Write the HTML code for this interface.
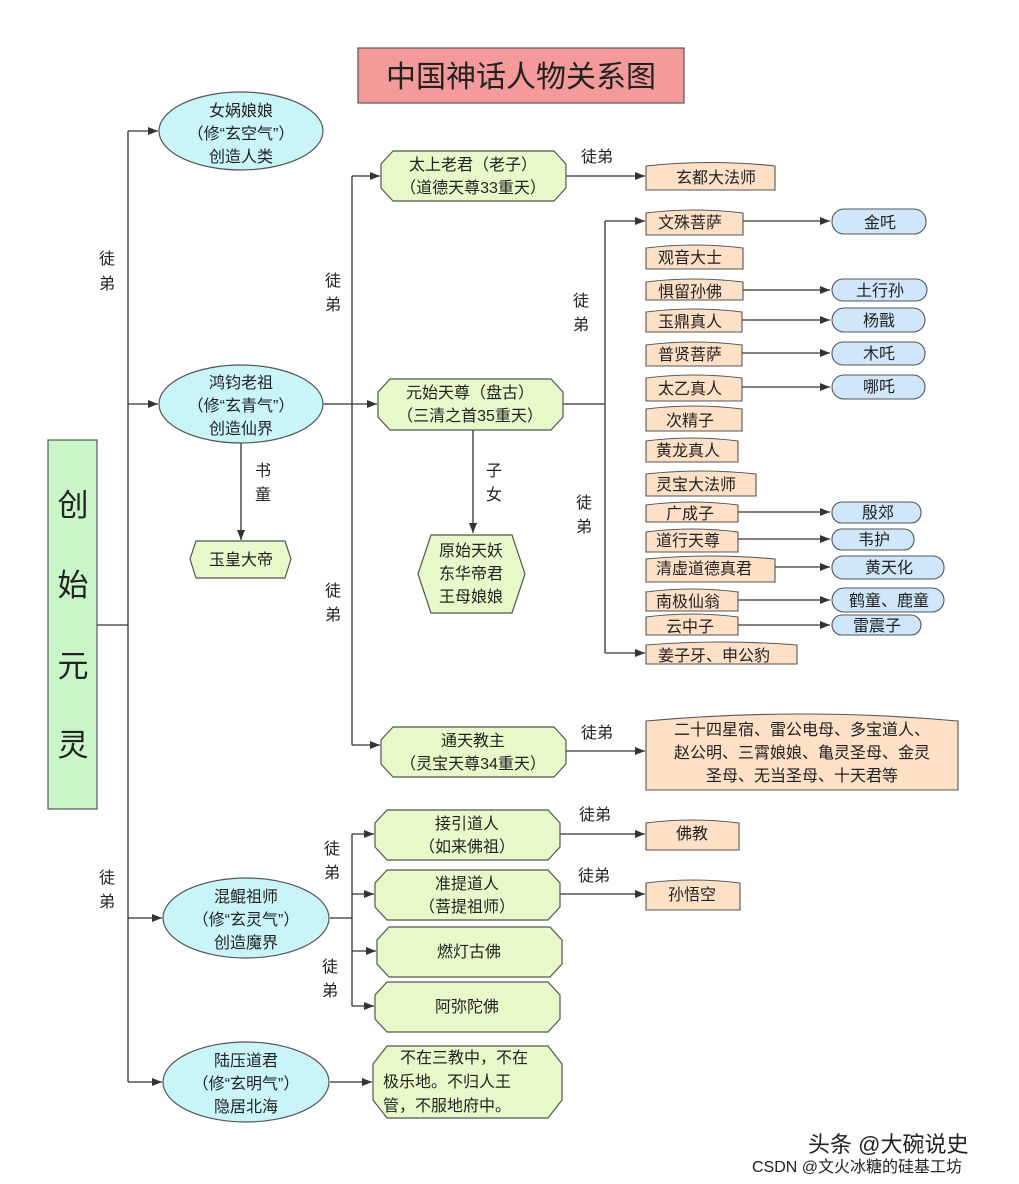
<!DOCTYPE html>
<html><head><meta charset="utf-8"><style>
body{margin:0;background:#fff}
svg{display:block;font-family:"Liberation Sans","Noto Sans CJK SC",sans-serif}
text{fill:#222}
</style></head><body>
<svg width="1019" height="1184" viewBox="0 0 1019 1184" xmlns="http://www.w3.org/2000/svg">
<defs><marker id="a" markerWidth="10" markerHeight="8" refX="10" refY="4" orient="auto" markerUnits="userSpaceOnUse"><path d="M0,0 L10,4 L0,8 Z" fill="#333"/></marker></defs>
<g stroke="#333" stroke-width="1.3" fill="none">
<!-- root -->
<path d="M97,625 H128 M128,131 V1082"/>
<path d="M128,131 H158" marker-end="url(#a)"/>
<path d="M128,404 H158" marker-end="url(#a)"/>
<path d="M128,918 H162" marker-end="url(#a)"/>
<path d="M128,1082 H162" marker-end="url(#a)"/>
<!-- hongjun -->
<path d="M322,404 H352 M352,176 V745"/>
<path d="M352,176 H380" marker-end="url(#a)"/>
<path d="M352,404 H377" marker-end="url(#a)"/>
<path d="M352,745 H380" marker-end="url(#a)"/>
<path d="M241,442 V540" marker-end="url(#a)"/>
<path d="M473,430 V533" marker-end="url(#a)"/>
<path d="M566,176 H645" marker-end="url(#a)"/>
<!-- yuanshi -->
<path d="M563,404 H605 M605,221 V653"/>
<path d="M605,221 H645" marker-end="url(#a)"/>
<path d="M605,653 H645" marker-end="url(#a)"/>
<path d="M743,221 H830" marker-end="url(#a)"/>
<path d="M743,290 H830" marker-end="url(#a)"/>
<path d="M742,320 H830" marker-end="url(#a)"/>
<path d="M742,353 H830" marker-end="url(#a)"/>
<path d="M742,387 H830" marker-end="url(#a)"/>
<path d="M738,512 H830" marker-end="url(#a)"/>
<path d="M738,539 H830" marker-end="url(#a)"/>
<path d="M775,567 H830" marker-end="url(#a)"/>
<path d="M738,600 H830" marker-end="url(#a)"/>
<path d="M738,625 H830" marker-end="url(#a)"/>
<path d="M566,751 H645" marker-end="url(#a)"/>
<!-- hunkun -->
<path d="M330,918 H352 M352,834 V1006"/>
<path d="M352,834 H374" marker-end="url(#a)"/>
<path d="M352,894 H374" marker-end="url(#a)"/>
<path d="M352,951 H376" marker-end="url(#a)"/>
<path d="M352,1006 H374" marker-end="url(#a)"/>
<path d="M560,834 H645" marker-end="url(#a)"/>
<path d="M560,894 H645" marker-end="url(#a)"/>
<path d="M330,1082 H372" marker-end="url(#a)"/>
</g>
<!-- title -->
<rect x="358" y="48" width="326" height="55" fill="#f59a9b" stroke="#555" stroke-width="1.2"/>
<text x="521" y="87" font-size="30" text-anchor="middle" fill="#333">中国神话人物关系图</text>
<!-- root box -->
<rect x="48" y="440" width="49" height="369" fill="#c8f6c8" stroke="#555" stroke-width="1.2"/>
<g font-size="31" text-anchor="middle"><text x="73" y="516">创</text><text x="73" y="596">始</text><text x="73" y="677">元</text><text x="73" y="756">灵</text></g>
<!-- ellipses -->
<g fill="#c9f5f9" stroke="#555" stroke-width="1.2">
<ellipse cx="241" cy="131" rx="82" ry="39"/>
<ellipse cx="241" cy="404" rx="82" ry="39"/>
<ellipse cx="246" cy="918" rx="83" ry="40"/>
<ellipse cx="246" cy="1082" rx="83" ry="40"/>
</g>
<g font-size="16" text-anchor="middle">
<text x="241" y="116">女娲娘娘</text><text x="241" y="139">（修“玄空气”）</text><text x="241" y="162">创造人类</text>
<text x="241" y="388">鸿钧老祖</text><text x="241" y="411">（修“玄青气”）</text><text x="241" y="434">创造仙界</text>
<text x="246" y="902">混鲲祖师</text><text x="246" y="925">（修“玄灵气”）</text><text x="246" y="948">创造魔界</text>
<text x="246" y="1066">陆压道君</text><text x="246" y="1089">（修“玄明气”）</text><text x="246" y="1112">隐居北海</text>
</g>
<!-- green octagons -->
<g fill="#e7f8c9" stroke="#555" stroke-width="1.2">
<polygon points="393,151 554,151 566,164 566,188 554,201 393,201 381,188 381,164"/>
<polygon points="390,379 551,379 563,392 563,417 551,430 390,430 378,417 378,392"/>
<polygon points="393,727 554,727 566,740 566,764 554,777 393,777 381,764 381,740"/>
<polygon points="387,810 548,810 560,823 560,847 548,860 387,860 375,847 375,823"/>
<polygon points="387,870 548,870 560,883 560,907 548,920 387,920 375,907 375,883"/>
<polygon points="389,927 550,927 562,940 562,964 550,977 389,977 377,964 377,940"/>
<polygon points="387,982 548,982 560,995 560,1019 548,1032 387,1032 375,1019 375,995"/>
<polygon points="387,1046 548,1046 562,1064 562,1100 548,1118 387,1118 373,1100 373,1064"/>
<polygon points="196,541 285,541 291,559 285,578 196,578 190,559"/>
<polygon points="431,535 512,535 525,574 512,613 431,613 418,574"/>
</g>
<g font-size="16" text-anchor="middle">
<text x="473" y="170">太上老君（老子）</text><text x="473" y="193">（道德天尊33重天）</text>
<text x="470" y="398">元始天尊（盘古）</text><text x="470" y="421">（三清之首35重天）</text>
<text x="473" y="746">通天教主</text><text x="473" y="769">（灵宝天尊34重天）</text>
<text x="467" y="829">接引道人</text><text x="467" y="852">（如来佛祖）</text>
<text x="467" y="889">准提道人</text><text x="467" y="912">（菩提祖师）</text>
<text x="469" y="957">燃灯古佛</text>
<text x="467" y="1012">阿弥陀佛</text>
<text x="241" y="565">玉皇大帝</text>
<text x="471" y="556">原始天妖</text><text x="471" y="579">东华帝君</text><text x="471" y="602">王母娘娘</text>
</g>
<g font-size="16"><text x="400" y="1063">不在三教中，不在</text><text x="383" y="1087">极乐地。不归人王</text><text x="383" y="1111">管，不服地府中。</text></g>
<!-- peach tape boxes -->
<g fill="#fde0c6" stroke="#555" stroke-width="1.1">
<path d="M646,166 Q710,159 775,166 V190 H646 Z"/>
<path d="M646,213 Q694,207 743,213 V235 H646 Z"/>
<path d="M646,248 Q694,242 743,248 V269 H646 Z"/>
<path d="M646,282 Q694,276 743,282 V300 H646 Z"/>
<path d="M646,312 Q694,306 742,312 V332 H646 Z"/>
<path d="M646,345 Q694,339 742,345 V366 H646 Z"/>
<path d="M646,378 Q694,372 742,378 V401 H646 Z"/>
<path d="M646,409 Q694,403 742,409 V431 H646 Z"/>
<path d="M646,441 Q692,435 738,441 V462 H646 Z"/>
<path d="M646,474 Q701,468 756,474 V496 H646 Z"/>
<path d="M646,505 Q692,499 738,505 V522 H646 Z"/>
<path d="M646,532 Q692,526 738,532 V552 H646 Z"/>
<path d="M646,559 Q710,553 775,559 V582 H646 Z"/>
<path d="M646,592 Q692,586 738,592 V611 H646 Z"/>
<path d="M646,617 Q692,611 738,617 V635 H646 Z"/>
<path d="M646,645 Q721,639 797,645 V664 H646 Z"/>
<path d="M646,721 Q802,707 958,721 V790 H646 Z"/>
<path d="M646,823 Q692,817 739,823 V850 H646 Z"/>
<path d="M646,883 Q693,877 740,883 V910 H646 Z"/>
</g>
<g font-size="16">
<text x="676" y="183">玄都大法师</text>
<text x="658" y="228">文殊菩萨</text><text x="658" y="263">观音大士</text><text x="658" y="297">惧留孙佛</text>
<text x="658" y="327">玉鼎真人</text><text x="658" y="360">普贤菩萨</text><text x="658" y="394">太乙真人</text>
<text x="666" y="426">次精子</text><text x="656" y="456">黄龙真人</text><text x="656" y="490">灵宝大法师</text>
<text x="666" y="519">广成子</text><text x="656" y="546">道行天尊</text><text x="656" y="574">清虚道德真君</text>
<text x="656" y="607">南极仙翁</text><text x="666" y="632">云中子</text><text x="658" y="661">姜子牙、申公豹</text>
<text x="802" y="735" text-anchor="middle">二十四星宿、雷公电母、多宝道人、</text>
<text x="802" y="758" text-anchor="middle">赵公明、三霄娘娘、亀灵圣母、金灵</text>
<text x="802" y="781" text-anchor="middle">圣母、无当圣母、十天君等</text>
<text x="692" y="839" text-anchor="middle">佛教</text><text x="692" y="900" text-anchor="middle">孙悟空</text>
</g>
<!-- clouds -->
<g fill="#cfe6fb" stroke="#555" stroke-width="1.1">
<rect x="832" y="209" width="94" height="25" rx="12"/>
<rect x="832" y="279" width="95" height="22" rx="11"/>
<rect x="832" y="308" width="93" height="24" rx="12"/>
<rect x="832" y="342" width="93" height="23" rx="11"/>
<rect x="832" y="375" width="93" height="24" rx="12"/>
<rect x="832" y="502" width="89" height="21" rx="10"/>
<rect x="832" y="529" width="82" height="21" rx="10"/>
<rect x="832" y="556" width="112" height="23" rx="11"/>
<rect x="832" y="588" width="112" height="24" rx="12"/>
<rect x="832" y="615" width="89" height="20" rx="10"/>
</g>
<g font-size="16" text-anchor="middle">
<text x="880" y="228">金吒</text><text x="880" y="296">土行孙</text><text x="879" y="326">杨戬</text>
<text x="879" y="359">木吒</text><text x="879" y="392">哪吒</text><text x="878" y="518">殷郊</text>
<text x="874" y="545">韦护</text><text x="889" y="573">黄天化</text><text x="889" y="606">鹤童、鹿童</text>
<text x="877" y="631">雷震子</text>
</g>
<!-- labels -->
<g font-size="16" fill="#333">
<text x="99" y="264">徒</text><text x="99" y="289">弟</text>
<text x="99" y="883">徒</text><text x="99" y="907">弟</text>
<text x="325" y="286">徒</text><text x="325" y="310">弟</text>
<text x="325" y="596">徒</text><text x="325" y="620">弟</text>
<text x="255" y="476">书</text><text x="255" y="500">童</text>
<text x="486" y="476">子</text><text x="486" y="500">女</text>
<text x="573" y="306">徒</text><text x="573" y="330">弟</text>
<text x="576" y="508">徒</text><text x="576" y="532">弟</text>
<text x="324" y="854">徒</text><text x="324" y="878">弟</text>
<text x="322" y="972">徒</text><text x="322" y="996">弟</text>
<text x="581" y="162">徒弟</text><text x="581" y="738">徒弟</text>
<text x="579" y="820">徒弟</text><text x="578" y="881">徒弟</text>
</g>
<text x="808" y="1152" font-size="22" fill="#222">头条 @大碗说史</text>
<text x="752" y="1172" font-size="16" fill="#888">CSDN @文火冰糖的硅基工坊</text>
</svg>
</body></html>
